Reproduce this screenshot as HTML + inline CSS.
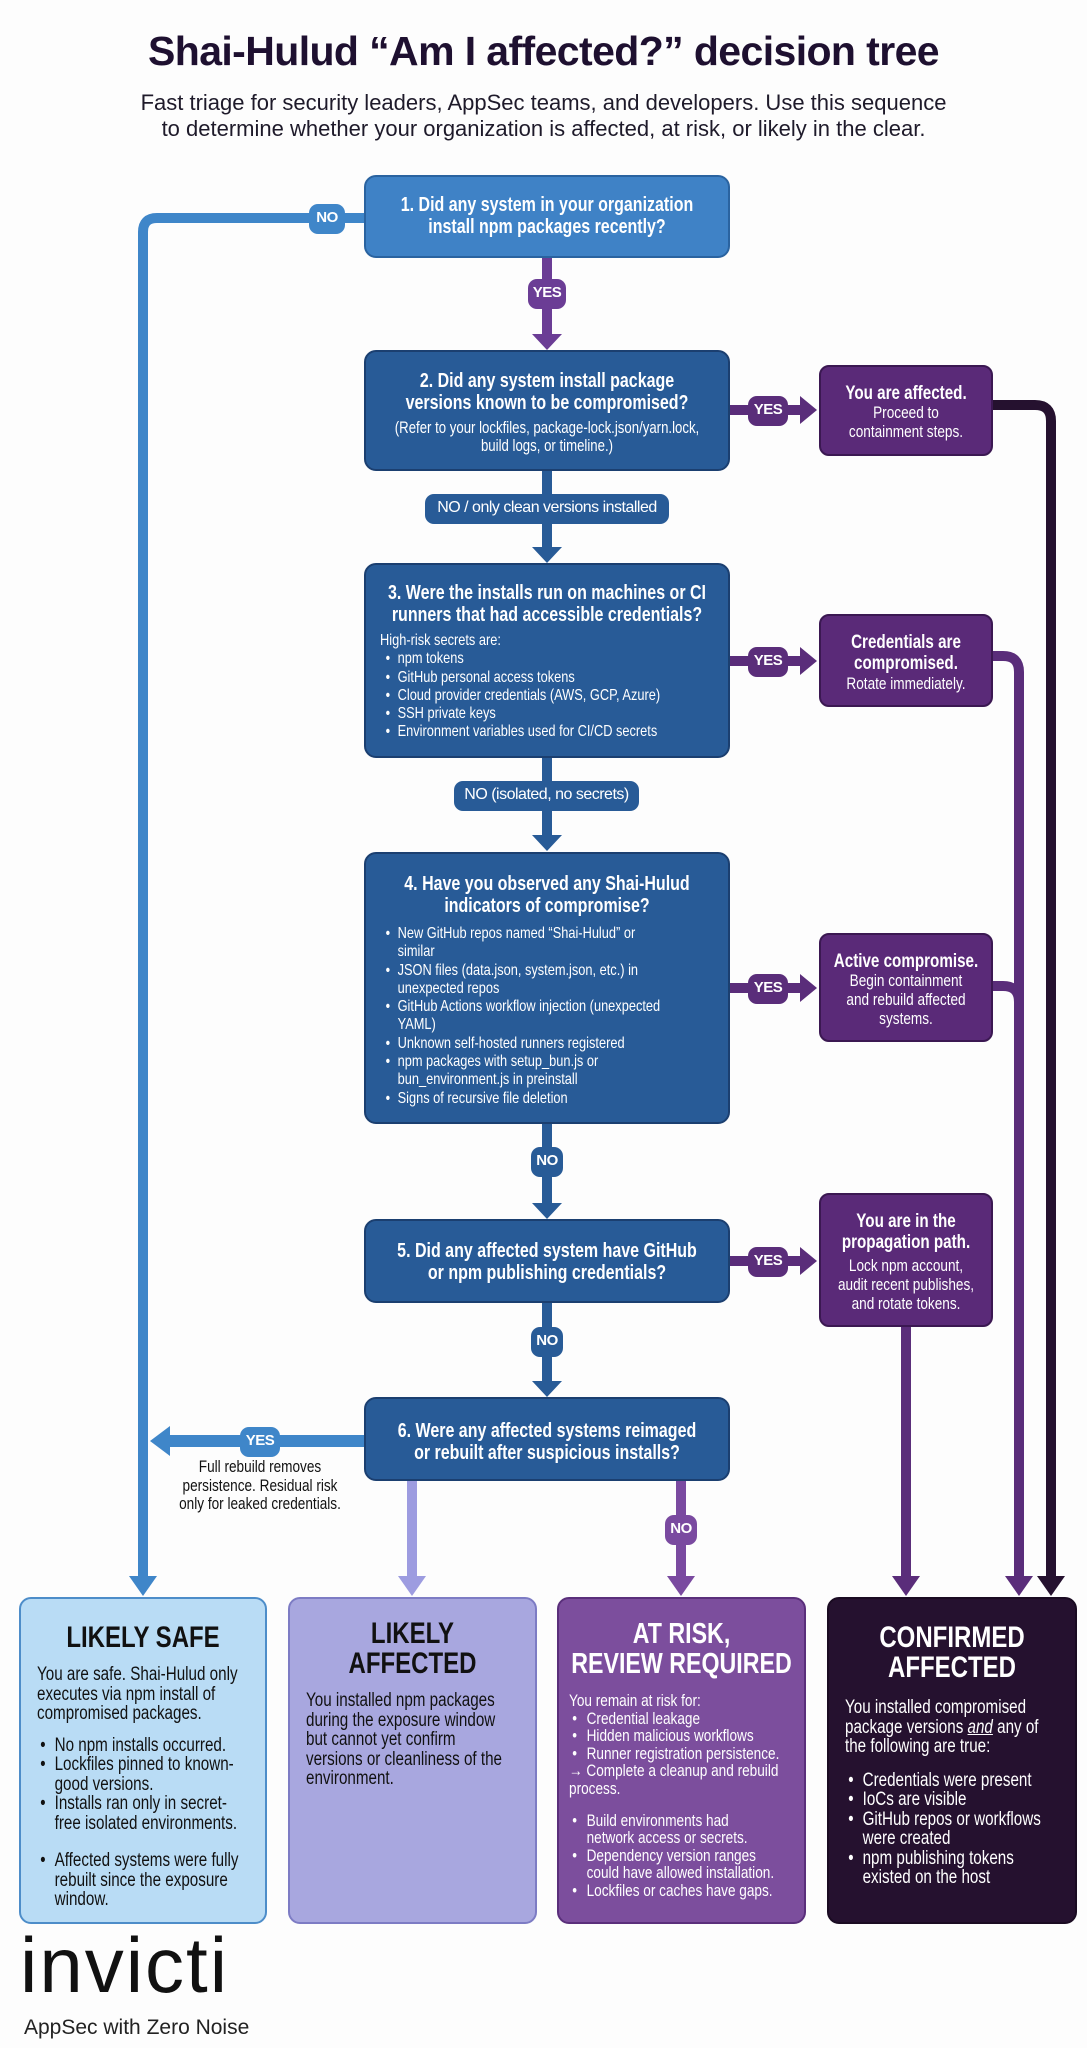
<!DOCTYPE html>
<html><head><meta charset="utf-8"><style>
*{margin:0;padding:0;box-sizing:border-box}
body{width:1087px;height:2048px;background:#fdfdfd;position:relative;overflow:hidden;font-family:"Liberation Sans",sans-serif;}
.a{position:absolute}
.n{transform:scaleX(.8);transform-origin:0 0;width:125%}
.title{left:0;width:1087px;top:28px;text-align:center;font-weight:bold;font-size:41px;color:#1e1030;letter-spacing:-0.6px}
.sub{left:0;width:1087px;top:90px;text-align:center;font-size:22px;line-height:26px;color:#1e1a2a}
.box{position:absolute;border-radius:12px;color:#fff;text-align:center;border:2px solid #1b3f70;background:#285b97}
.q{font-weight:bold;font-size:20px;line-height:22px}
.bl{font-size:16px;line-height:18.3px;text-align:left}
.bl ul{list-style:none}
.bl li{position:relative;padding-left:22px}
.bl li:before{content:"•";position:absolute;left:7px}
.pb{position:absolute;background:#5a2a78;border:2px solid #3b1852;border-radius:10px;color:#fff;text-align:center;font-size:17px;line-height:19px}
.pill{position:absolute;border-radius:9px;color:#fff;font-weight:bold;font-size:15px;text-align:center;line-height:28px;height:30px;letter-spacing:-0.5px}
.fb{position:absolute;top:1597px;height:327px;border-radius:12px;padding:0 16px}
.fb h2{font-size:30px;line-height:30px;text-align:center;font-weight:bold;white-space:nowrap}
.fb p,.fb li{font-size:19px;line-height:19.5px}
.fb ul{list-style:none}
.fb li{position:relative;padding-left:22px}
.fb li:before{content:"•";position:absolute;left:4px}
</style></head><body>
<div class="a title">Shai-Hulud “Am I affected?” decision tree</div>
<div class="a sub">Fast triage for security leaders, AppSec teams, and developers. Use this sequence<br>to determine whether your organization is affected, at risk, or likely in the clear.</div>

<svg class="a" style="left:0;top:0" width="1087" height="2048">
<g fill="none" stroke-width="10">
<path d="M364,218 H157 Q143,218 143,232 V1580" stroke="#3f86c9"/>
<path d="M364,1441 H162" stroke="#3f86c9" stroke-width="12"/>
<path d="M547,258 V336" stroke="#6b3d95"/>
<path d="M547,471 V550 M547,758 V838 M547,1124 V1206 M547,1303 V1384" stroke="#285b97"/>
<path d="M730,410 H802 M730,661 H802 M730,988 H802 M730,1261 H802" stroke="#5a2d7a"/>
<path d="M993,405 H1035 Q1051,405 1051,421 V1580" stroke="#25112f"/>
<path d="M993,656 H1003 Q1019,656 1019,672 V1580 M993,986 H1003 Q1019,986 1019,1002" stroke="#5a2d7a"/>
<path d="M906,1327 V1580" stroke="#5a2d7a"/>
<path d="M412,1481 V1580" stroke="#9d9ce0"/>
<path d="M681,1481 V1580" stroke="#7a4aa0"/>
</g>
<polygon points="129,1576 157,1576 143,1596" fill="#3f86c9"/>
<polygon points="170,1426 170,1456 150,1441" fill="#3f86c9"/>
<polygon points="532,334 562,334 547,350" fill="#6b3d95"/>
<polygon points="532,547 562,547 547,563" fill="#285b97"/>
<polygon points="532,835 562,835 547,851" fill="#285b97"/>
<polygon points="532,1203 562,1203 547,1219" fill="#285b97"/>
<polygon points="532,1381 562,1381 547,1397" fill="#285b97"/>
<g fill="#5a2d7a">
<polygon points="800,396 800,424 817,410"/><polygon points="800,647 800,675 817,661"/>
<polygon points="800,974 800,1002 817,988"/><polygon points="800,1247 800,1275 817,1261"/>
<polygon points="1005,1576 1033,1576 1019,1596"/><polygon points="892,1576 920,1576 906,1596"/>
</g>
<polygon points="1037,1576 1065,1576 1051,1596" fill="#25112f"/>
<polygon points="398,1576 426,1576 412,1596" fill="#9d9ce0"/>
<polygon points="667,1576 695,1576 681,1596" fill="#7a4aa0"/>
</svg>

<div class="pill" style="left:309px;top:204px;width:36px;background:#3f86c9">NO</div>
<div class="pill" style="left:528px;top:279px;width:38px;background:#6b3d95">YES</div>
<div class="pill" style="left:425px;top:494px;width:244px;background:#285b97;font-weight:normal;font-size:16px">NO / only clean versions installed</div>
<div class="pill" style="left:454px;top:781px;width:185px;background:#285b97;font-weight:normal;font-size:16px">NO (isolated, no secrets)</div>
<div class="pill" style="left:531px;top:1147px;width:32px;background:#285b97">NO</div>
<div class="pill" style="left:531px;top:1327px;width:32px;background:#285b97">NO</div>
<div class="pill" style="left:748px;top:396px;width:40px;background:#5a2d7a">YES</div>
<div class="pill" style="left:748px;top:647px;width:40px;background:#5a2d7a">YES</div>
<div class="pill" style="left:748px;top:974px;width:40px;background:#5a2d7a">YES</div>
<div class="pill" style="left:748px;top:1247px;width:40px;background:#5a2d7a">YES</div>
<div class="pill" style="left:240px;top:1427px;width:40px;background:#3f86c9">YES</div>
<div class="pill" style="left:665px;top:1515px;width:32px;background:#7a4aa0">NO</div>
<div class="a" style="left:170px;top:1458px;width:180px;text-align:center;font-size:17px;line-height:18.5px;color:#111"><div class="n">Full rebuild removes<br>persistence. Residual risk<br>only for leaked credentials.</div></div>

<div class="box q" style="left:364px;top:175px;width:366px;height:83px;padding-top:17px;background:#3f82c6;border-color:#2a63a0"><div class="n">1. Did any system in your organization<br>install npm packages recently?</div></div>
<div class="box" style="left:364px;top:350px;width:366px;height:121px;padding-top:18px"><div class="n"><div class="q">2. Did any system install package<br>versions known to be compromised?</div><div style="font-size:16.5px;line-height:18px;margin-top:5px">(Refer to your lockfiles, package-lock.json/yarn.lock,<br>build logs, or timeline.)</div></div></div>
<div class="box" style="left:364px;top:563px;width:366px;height:195px;padding:17px 14px 0 14px"><div class="n"><div class="q">3. Were the installs run on machines or CI<br>runners that had accessible credentials?</div><div class="bl" style="margin-top:6px">High-risk secrets are:<ul><li>npm tokens</li><li>GitHub personal access tokens</li><li>Cloud provider credentials (AWS, GCP, Azure)</li><li>SSH private keys</li><li>Environment variables used for CI/CD secrets</li></ul></div></div></div>
<div class="box" style="left:364px;top:852px;width:366px;height:272px;padding:19px 14px 0 14px"><div class="n"><div class="q">4. Have you observed any Shai-Hulud<br>indicators of compromise?</div><div class="bl" style="margin-top:8px"><ul><li>New GitHub repos named “Shai-Hulud” or<br>similar</li><li>JSON files (data.json, system.json, etc.) in<br>unexpected repos</li><li>GitHub Actions workflow injection (unexpected<br>YAML)</li><li>Unknown self-hosted runners registered</li><li>npm packages with setup_bun.js or<br>bun_environment.js in preinstall</li><li>Signs of recursive file deletion</li></ul></div></div></div>
<div class="box q" style="left:364px;top:1219px;width:366px;height:84px;padding-top:19px"><div class="n">5. Did any affected system have GitHub<br>or npm publishing credentials?</div></div>
<div class="box q" style="left:364px;top:1397px;width:366px;height:84px;padding-top:21px"><div class="n">6. Were any affected systems reimaged<br>or rebuilt after suspicious installs?</div></div>

<div class="pb" style="left:819px;top:365px;width:174px;height:91px;padding-top:17px"><div class="n"><b style="font-size:19px">You are affected.</b><br>Proceed to<br>containment steps.</div></div>
<div class="pb" style="left:819px;top:614px;width:174px;height:93px;padding-top:16px"><div class="n"><b style="font-size:19px;line-height:21px">Credentials are<br>compromised.</b><br>Rotate immediately.</div></div>
<div class="pb" style="left:819px;top:933px;width:174px;height:109px;padding-top:17px"><div class="n"><b style="font-size:19px">Active compromise.</b><br>Begin containment<br>and rebuild affected<br>systems.</div></div>
<div class="pb" style="left:819px;top:1193px;width:174px;height:134px;padding-top:16px"><div class="n"><b style="font-size:19px;line-height:21px">You are in the<br>propagation path.</b><div style="margin-top:3px">Lock npm account,<br>audit recent publishes,<br>and rotate tokens.</div></div></div>

<div class="fb" style="left:19px;width:248px;background:#b9dcf5;border:2px solid #4d8dc9;color:#111;padding-top:24px"><div class="n"><h2>LIKELY SAFE</h2><p style="margin-top:12px">You are safe. Shai-Hulud only<br>executes via npm install of<br>compromised packages.</p><ul style="margin-top:12px"><li>No npm installs occurred.</li><li>Lockfiles pinned to known-<br>good versions.</li><li>Installs ran only in secret-<br>free isolated environments.</li><li style="margin-top:18px">Affected systems were fully<br>rebuilt since the exposure<br>window.</li></ul></div></div>
<div class="fb" style="left:288px;width:249px;background:#a8a7df;border:2px solid #7d7cc4;color:#111;padding-top:20px"><div class="n"><h2>LIKELY<br>AFFECTED</h2><p style="margin-top:12px">You installed npm packages<br>during the exposure window<br>but cannot yet confirm<br>versions or cleanliness of the<br>environment.</p></div></div>
<div class="fb" style="left:557px;width:249px;background:#7c4e9d;border:2px solid #5a2f7b;color:#fff;padding:20px 10px 0 10px"><div class="n"><h2 style="font-size:29px">AT RISK,<br>REVIEW REQUIRED</h2><div style="font-size:17px;line-height:17.6px;margin-top:13px">You remain at risk for:<ul><li style="font-size:17px;line-height:17.6px">Credential leakage</li><li style="font-size:17px;line-height:17.6px">Hidden malicious workflows</li><li style="font-size:17px;line-height:17.6px">Runner registration persistence.</li></ul>→ Complete a cleanup and rebuild<br>process.<ul style="margin-top:14px"><li style="font-size:17px;line-height:17.6px">Build environments had<br>network access or secrets.</li><li style="font-size:17px;line-height:17.6px">Dependency version ranges<br>could have allowed installation.</li><li style="font-size:17px;line-height:17.6px">Lockfiles or caches have gaps.</li></ul></div></div></div>
<div class="fb" style="left:827px;width:250px;background:#25112f;border:2px solid #1a0b22;color:#fff;padding-top:24px"><div class="n"><h2>CONFIRMED<br>AFFECTED</h2><p style="margin-top:15px">You installed compromised<br>package versions <i><u>and</u></i> any of<br>the following are true:</p><ul style="margin-top:14px"><li>Credentials were present</li><li>IoCs are visible</li><li>GitHub repos or workflows<br>were created</li><li>npm publishing tokens<br>existed on the host</li></ul></div></div>

<div class="a" style="left:20px;top:1925px;font-size:78px;line-height:80px;color:#111;letter-spacing:2px">invicti</div>
<div class="a" style="left:24px;top:2016px;font-size:21px;color:#222">AppSec with Zero Noise</div>
</body></html>
